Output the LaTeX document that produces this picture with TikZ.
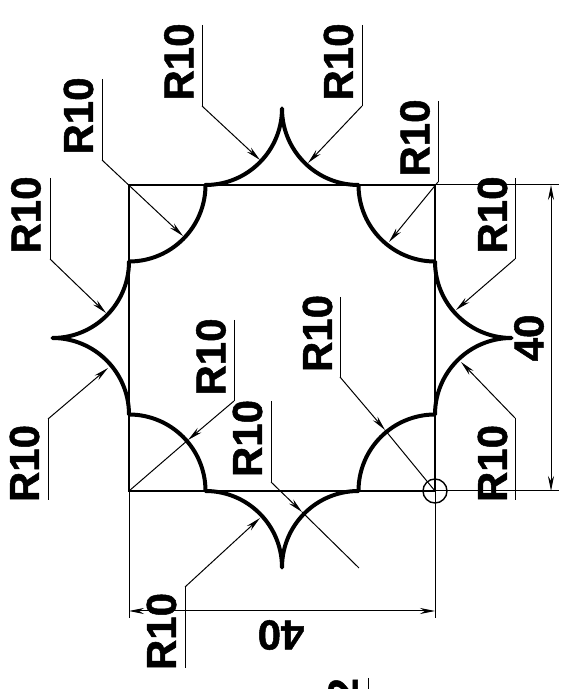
\documentclass[tikz,border=0pt]{standalone}
\usepackage{fontspec}
\setmainfont{Liberation Sans}
\newfontface\dimfont{Liberation Sans Bold}[FakeBold=1.2]
\usetikzlibrary{arrows.meta}
\tikzset{
outline/.style={line width=4pt, line join=round, line cap=round},
square/.style={line width=1.6pt},
thinline/.style={line width=1pt},
leader/.style={thinline, -{Stealth[length=15pt, width=6pt]}},
dimline/.style={thinline, {Stealth[length=15pt, width=6pt]}-{Stealth[length=15pt, width=6pt]}},
label/.style={font=\fontsize{42}{42}\selectfont\dimfont, inner sep=0pt}}

\begin{document}
\begin{tikzpicture}[x=1pt, y=1pt]
\useasboundingbox (0,0) rectangle (561,689);
\clip (0,0) rectangle (561,689);

% corners of the square
\coordinate (sw) at (129,198);
\coordinate (se) at (435,198);
\coordinate (ne) at (435,504);
\coordinate (nw) at (129,504);

\draw [square] (sw) -- (se) -- (ne) -- (nw) -- cycle;
\node (mark) [draw, circle, line width=1.4pt, minimum size=24pt, inner sep=0pt] at (se) {};

% eight lobes and four corner arcs
\draw [outline] (205.5,504) arc[start angle=270, end angle=360, radius=76.5]
  arc[start angle=180, end angle=270, radius=76.5]
  arc[start angle=180, end angle=270, radius=76.5]
  arc[start angle=180, end angle=270, radius=76.5]
  arc[start angle=90, end angle=180, radius=76.5]
  arc[start angle=90, end angle=180, radius=76.5]
  arc[start angle=90, end angle=180, radius=76.5]
  arc[start angle=0, end angle=90, radius=76.5]
  arc[start angle=0, end angle=90, radius=76.5]
  arc[start angle=0, end angle=90, radius=76.5]
  arc[start angle=270, end angle=360, radius=76.5]
  arc[start angle=270, end angle=360, radius=76.5];

% labels
\node (r1) [label, rotate=90] at (179,627) {R10};
\node (r2) [label, rotate=90] at (78.5,573) {R10};
\node (r3) [label, rotate=90] at (26,474) {R10};
\node (r4) [label, rotate=90] at (338.5,627) {R10};
\node (r5) [label, rotate=90] at (415,551) {R10};
\node (r6) [label, rotate=90] at (492.5,474) {R10};
\node (r7) [label, rotate=90] at (24.5,225.5) {R10};
\node (r8) [label, rotate=90] at (211,332) {R10};
\node (r9) [label, rotate=90] at (247.5,250.5) {R10};
\node (r10) [label, rotate=90] at (161.5,57.5) {R10};
\node (r11) [label, rotate=90] at (317.5,355.5) {R10};
\node (r12) [label, rotate=90] at (492.5,225.5) {R10};
\node (dimv) [label, rotate=90] at (529,351) {40};
\node (dimh) [label, rotate=180] at (281,54) {40};
\node (cut) [label, rotate=90, anchor=east] at (343,11) {2};

% leaders, each with its tail beside the label
\draw [thinline] (202,664) coordinate (t1) -- (202,583) coordinate (k1);
\coordinate (a1) at (260,529);
\draw [leader] (k1) -- (a1);
\draw [thinline] (102,610) coordinate (t2) -- (102,529) coordinate (k2);
\coordinate (a2) at (183,453);
\draw [leader] (k2) -- (a2);
\draw [thinline] (50,511) coordinate (t3) -- (50,430) coordinate (k3);
\coordinate (a3) at (106,376);
\draw [leader] (k3) -- (a3);
\draw [thinline] (362,664) coordinate (t4) -- (362,583) coordinate (k4);
\coordinate (a4) at (308,526);
\draw [leader] (k4) -- (a4);
\draw [thinline] (438,588) coordinate (t5) -- (438,507) coordinate (k5);
\coordinate (a5) at (389,447);
\draw [leader] (k5) -- (a5);
\draw [thinline] (515,511) coordinate (t6) -- (515,430) coordinate (k6);
\coordinate (a6) at (456,379);
\draw [leader] (k6) -- (a6);
\draw [thinline] (48,189) coordinate (t7) -- (48,270) coordinate (k7);
\coordinate (a7) at (108,321);
\draw [leader] (k7) -- (a7);
\draw [thinline] (234,369) coordinate (t8) -- (234,288) coordinate (k8);
\coordinate (a8) at (188,249);
\draw [leader] (k8) -- (a8);
\draw [thinline] (a8) -- (sw);
\draw [thinline] (271,288) coordinate (t9) -- (271,207) coordinate (k9);
\coordinate (a9) at (302,177);
\coordinate (e9) at (359,121);
\draw [leader] (k9) -- (a9);
\draw [thinline] (a9) -- (e9);
\draw [thinline] (185,21) coordinate (t10) -- (185,102) coordinate (k10);
\coordinate (a10) at (260,171);
\draw [leader] (k10) -- (a10);
\draw [thinline] (340,392) coordinate (t11) -- (340,312) coordinate (k11);
\coordinate (a11) at (385,259);
\draw [leader] (k11) -- (a11);
\draw [thinline] (a11) -- (se);
\draw [thinline] (515,189) coordinate (t12) -- (515,271) coordinate (k12);
\coordinate (a12) at (461,327);
\draw [leader] (k12) -- (a12);
\draw [thinline] (368,11) coordinate (t13) -- (368,0) coordinate (k13);

% dimensions
\coordinate (v1) at (551,504);
\coordinate (v2) at (551,198);
\coordinate (h1) at (129,78);
\coordinate (h2) at (435,78);
\draw [thinline] (ne) -- (559,504);
\draw [thinline] (se) -- (559,198);
\draw [thinline] (sw) -- (129,71);
\draw [thinline] (se) -- (435,71);
\draw [dimline] (v1) -- (v2);
\draw [dimline] (h1) -- (h2);
\end{tikzpicture}
\end{document}
